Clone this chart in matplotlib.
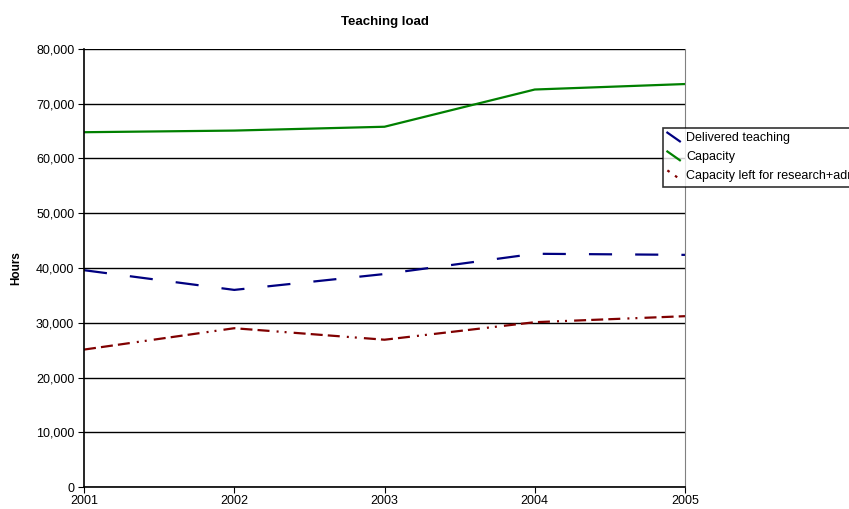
import matplotlib.pyplot as plt
from matplotlib.lines import Line2D
from matplotlib.legend_handler import HandlerLine2D

plt.rcParams['font.family'] = ['Liberation Sans', 'DejaVu Sans']

years = [2001, 2002, 2003, 2004, 2005]
delivered = [39600, 36000, 38900, 42600, 42400]
capacity = [64800, 65100, 65800, 72600, 73600]
left_over = [25100, 29000, 26900, 30100, 31200]

LONG_DASH_DOT_DOT = (5.4, 2.3, 5.4, 2.3, 5.4, 3.2, 0.9, 2.7, 0.9, 3.2)


class SlantHandler(HandlerLine2D):
    # short diagonal stroke as the legend key
    def create_artists(self, legend, orig, xd, yd, w, h, fs, trans):
        ln = Line2D([0, w], [h, 0])
        self.update_prop(ln, orig, legend)
        ln.set_transform(trans)
        return [ln]


fig = plt.figure(figsize=(8.49, 5.09), dpi=100)
ax = fig.add_axes([84 / 849, 22 / 509, 601 / 849, 438 / 509])

ax.plot(years, delivered, color='#000080', lw=1.6, dashes=(10.4, 10.4),
        label='Delivered teaching')
ax.plot(years, capacity, color='#008000', lw=1.6, label='Capacity')
ax.plot(years, left_over, color='#800000', lw=1.6, dashes=LONG_DASH_DOT_DOT,
        label='Capacity left for research+admin')

ax.set_xlim(2001, 2005)
ax.set_ylim(0, 80000)
ax.set_xticks(years)
ax.set_yticks(range(0, 80001, 10000))
ax.yaxis.set_major_formatter(plt.FuncFormatter(lambda v, p: f'{int(v):,}'))
ax.grid(axis='y', color='black', lw=1)
ax.set_axisbelow(True)
ax.tick_params(labelsize=9, direction='out', length=4, width=0.8, pad=3)
ax.tick_params(axis='x', pad=2)
for s in ['left', 'bottom']:
    ax.spines[s].set_color('black')
    ax.spines[s].set_linewidth(1.2)
ax.spines['top'].set_visible(False)
ax.spines['right'].set_color('#808080')

ax.set_title('Teaching load', fontsize=9.5, fontweight='bold', pad=17)
ax.set_ylabel('Hours', fontsize=8.5, fontweight='bold', labelpad=10)

leg = fig.legend(loc='upper left', bbox_to_anchor=(663 / 849, 1 - 128 / 509),
                 fontsize=9, frameon=True, fancybox=False, edgecolor='black',
                 handlelength=1.0, handletextpad=0.5, borderpad=0.35,
                 labelspacing=0.55, borderaxespad=0,
                 handler_map={Line2D: SlantHandler()})
leg.get_frame().set_linewidth(1.2)
leg.get_frame().set_boxstyle('square', pad=0)
for ln in leg.get_lines():
    ln.set_linestyle('-')
leg.get_lines()[2].set_dashes((1.2, 3))

fig.savefig('out.png', dpi=100)
